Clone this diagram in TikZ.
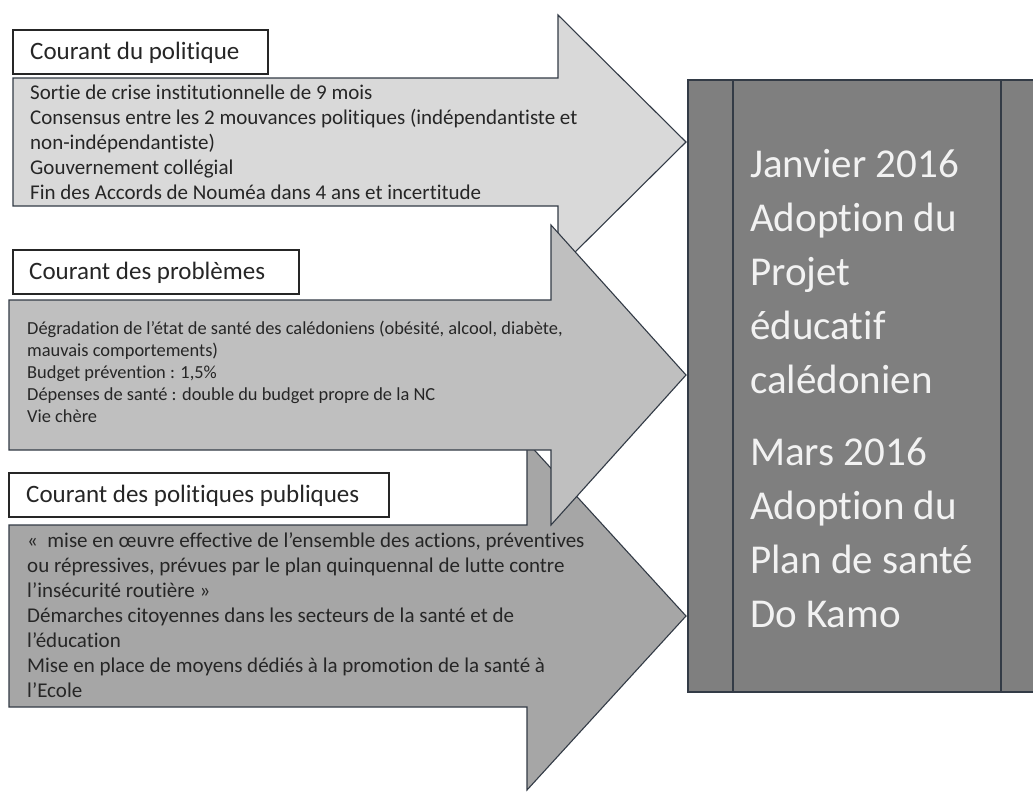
\documentclass[tikz,border=0pt]{standalone}
\usepackage{fontspec}
\setmainfont{Carlito}[Ligatures=NoCommon]
\definecolor{edge}{HTML}{333B46}
\definecolor{fillA}{HTML}{D9D9D9}
\definecolor{fillB}{HTML}{BFBFBF}
\definecolor{fillC}{HTML}{A6A6A6}
\definecolor{fillD}{HTML}{7F7F7F}
\definecolor{txt}{HTML}{262626}
\definecolor{boxtxt}{HTML}{F2F2F2}
\tikzset{
  arrowshape/.style={draw=edge, line width=1.1pt, line join=miter},
  labelbox/.style={draw=black!85, fill=white, line width=1.1pt},
  labeltext/.style={anchor=west, inner sep=0pt, text=txt, font=\fontsize{25}{30}\selectfont},
  bodytext/.style={anchor=north west, inner sep=0pt, align=left, text=txt},
  bigtext/.style={anchor=north west, inner sep=0pt, align=left, text=boxtxt, font=\fontsize{41}{54}\selectfont}
}
\begin{document}
\begin{tikzpicture}[x=1pt,y=-1pt]
\useasboundingbox (0,0) rectangle (1033,792);
\clip (0,0) rectangle (1033,792);
\fill[white] (0,0) rectangle (1033,792);
% arrow 1
\draw[arrowshape, fill=fillA] (13,78) -- (558,78) -- (558,15) -- (686,142) -- (558,269) -- (558,206) -- (13,206) -- cycle;
% arrow 3
\draw[arrowshape, fill=fillC] (9,525) -- (527,525) -- (527,442) -- (686,616) -- (527,790) -- (527,707) -- (9,707) -- cycle;
% arrow 2
\draw[arrowshape, fill=fillB] (9,300) -- (551,300) -- (551,225) -- (686,375) -- (551,525) -- (551,450) -- (9,450) -- cycle;
% label boxes
\draw[labelbox] (13,30) rectangle (268,74);
\node[labeltext] (l1) at (30,53) {Courant du politique};
\draw[labelbox] (13,250) rectangle (299,294);
\node[labeltext] (l2) at (29,273) {Courant des problèmes};
\draw[labelbox] (9,473) rectangle (389,517);
\node[labeltext] (l3) at (26,496) {Courant des politiques publiques};
% body texts
\node[bodytext, font=\fontsize{21}{25}\selectfont] (t1) at (30,85) {Sortie de crise institutionnelle de 9 mois\\Consensus entre les 2 mouvances politiques (indépendantiste et\\non-indépendantiste)\\Gouvernement collégial\\Fin des Accords de Nouméa dans 4 ans et incertitude};
\node[bodytext, font=\fontsize{18.4}{22}\selectfont] (t2) at (27,321) {Dégradation de l’état de santé des calédoniens (obésité, alcool, diabète,\\mauvais comportements)\\Budget prévention : 1,5\%\\Dépenses de santé : double du budget propre de la NC\\Vie chère};
\node[bodytext, font=\fontsize{21}{25}\selectfont] (t3) at (27,532) {«\ \ mise en œuvre effective de l’ensemble des actions, préventives\\ou répressives, prévues par le plan quinquennal de lutte contre\\l’insécurité routière »\\Démarches citoyennes dans les secteurs de la santé et de\\l’éducation\\Mise en place de moyens dédiés à la promotion de la santé à\\l’Ecole};
% big box
\draw[draw=edge, line width=1.1pt, fill=fillD] (688,80) rectangle (1045,692);
\draw[draw=edge, line width=1.1pt] (733,80) -- (733,692);
\draw[draw=edge, line width=1.1pt] (1001,80) -- (1001,692);
\node[bigtext] (big) at (750,149) {Janvier 2016\\Adoption du\\Projet\\éducatif\\calédonien\\[18pt]Mars 2016\\Adoption du\\Plan de santé\\Do Kamo};
\end{tikzpicture}
\end{document}
